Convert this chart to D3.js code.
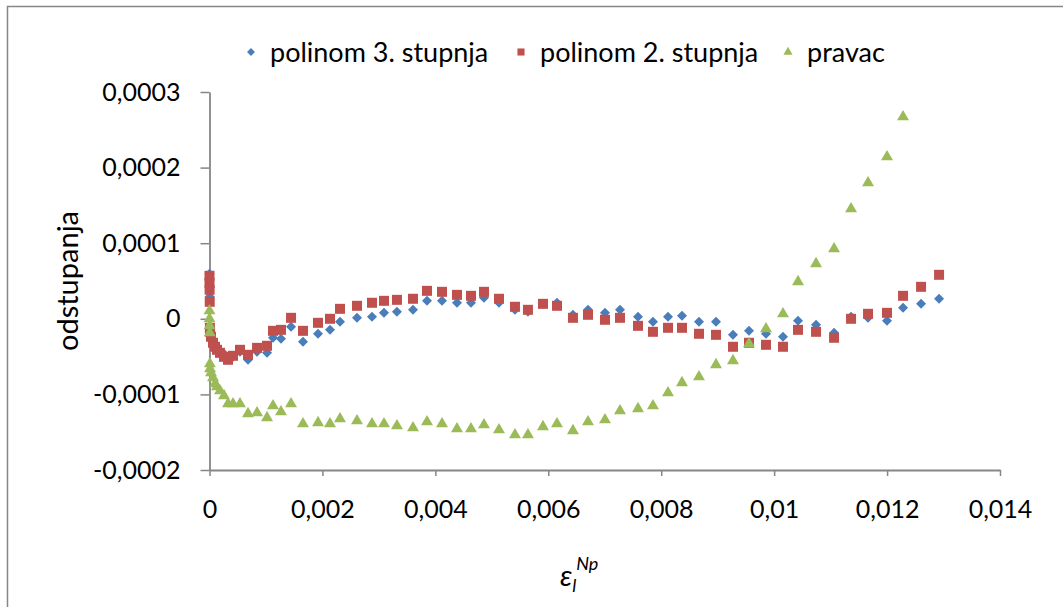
<!DOCTYPE html>
<html>
<head>
<meta charset="utf-8">
<script src="https://cdn.jsdelivr.net/npm/d3@7"></script>
<style>
  body { margin: 0; background: #fff; }
  text { font-family: Lato, "Open Sans", sans-serif; fill: #000; }
</style>
</head>
<body>
<svg id="chart" width="1063" height="607"></svg>
<script>
// plastic strain values (shared by all three fits)
var strain = [0, 0, 0.000002, 0.000004, 0.000007, 0.00001, 0.000027, 0.000062, 0.000097, 0.000133,
  0.000186, 0.000257, 0.000328, 0.000416, 0.00054, 0.000682, 0.000842, 0.001019, 0.001125, 0.001266,
  0.001444, 0.001656, 0.001922, 0.002134, 0.002311, 0.002612, 0.002878, 0.00309, 0.00332, 0.003604,
  0.003852, 0.004118, 0.004383, 0.004631, 0.004861, 0.005127, 0.00541, 0.00564, 0.005906, 0.006154,
  0.006437, 0.006703, 0.007004, 0.00727, 0.007589, 0.007854, 0.00812, 0.008368, 0.008669, 0.00897,
  0.009271, 0.009555, 0.009856, 0.010157, 0.010423, 0.010742, 0.011061, 0.011362, 0.011663, 0.011999,
  0.012283, 0.012602, 0.012921];

// odstupanja, polinom 3. stupnja
var poly3 = [59.5e-6, 52.9e-6, 41.0e-6, 29.1e-6, -10.6e-6, -15.9e-6, -22.5e-6, -30.4e-6, -35.7e-6, -41.0e-6,
  -43.7e-6, -46.3e-6, -51.6e-6, -50.3e-6, -43.7e-6, -54.2e-6, -43.7e-6, -45.0e-6, -25.1e-6, -26.5e-6,
  -10.6e-6, -30.4e-6, -19.8e-6, -14.6e-6, -4.0e-6, 1.3e-6, 2.6e-6, 7.9e-6, 9.3e-6, 11.9e-6,
  23.8e-6, 23.8e-6, 21.2e-6, 21.2e-6, 27.8e-6, 21.2e-6, 11.9e-6, 9.3e-6, 19.8e-6, 21.2e-6,
  5.3e-6, 11.9e-6, 7.9e-6, 11.9e-6, 2.6e-6, -4.0e-6, 2.6e-6, 4.0e-6, -4.0e-6, -4.0e-6,
  -21.2e-6, -15.9e-6, -19.8e-6, -23.8e-6, -2.6e-6, -7.9e-6, -18.5e-6, 2.6e-6, 1.3e-6, -2.6e-6,
  14.6e-6, 19.8e-6, 26.5e-6];

// odstupanja, polinom 2. stupnja
var poly2 = [56.9e-6, 47.6e-6, 38.4e-6, 22.5e-6, -11.9e-6, -17.2e-6, -23.8e-6, -31.7e-6, -37.0e-6, -41.0e-6,
  -45.0e-6, -50.3e-6, -54.2e-6, -48.9e-6, -41.0e-6, -47.6e-6, -38.4e-6, -35.7e-6, -15.9e-6, -14.6e-6,
  1.3e-6, -15.9e-6, -5.3e-6, 0, 13.2e-6, 17.2e-6, 21.2e-6, 23.8e-6, 25.1e-6, 26.5e-6,
  37.0e-6, 35.7e-6, 31.7e-6, 30.4e-6, 35.7e-6, 26.5e-6, 15.9e-6, 11.9e-6, 19.8e-6, 17.2e-6,
  1.3e-6, 5.3e-6, -1.3e-6, 1.3e-6, -9.3e-6, -17.2e-6, -11.9e-6, -11.9e-6, -19.8e-6, -21.2e-6,
  -37.0e-6, -31.7e-6, -34.4e-6, -37.0e-6, -14.6e-6, -17.2e-6, -25.1e-6, 0, 6.6e-6, 7.9e-6,
  30.4e-6, 42.3e-6, 58.2e-6];

// odstupanja, pravac (last two fall above the axis range, not shown)
var line1 = [11.9e-6, 1.3e-6, -7.9e-6, -17.2e-6, -58.2e-6, -64.8e-6, -70.1e-6, -76.7e-6, -84.7e-6, -88.6e-6,
  -93.9e-6, -100.5e-6, -111.1e-6, -111.1e-6, -111.1e-6, -124.3e-6, -123.0e-6, -129.6e-6, -113.8e-6, -121.7e-6,
  -111.1e-6, -137.6e-6, -136.2e-6, -137.6e-6, -131.0e-6, -133.6e-6, -137.6e-6, -137.6e-6, -140.2e-6, -142.9e-6,
  -134.9e-6, -137.6e-6, -144.2e-6, -144.2e-6, -138.9e-6, -145.5e-6, -152.1e-6, -152.1e-6, -141.5e-6, -137.6e-6,
  -146.8e-6, -134.9e-6, -132.3e-6, -120.4e-6, -117.7e-6, -113.8e-6, -96.6e-6, -83.3e-6, -75.4e-6, -59.5e-6,
  -54.2e-6, -31.7e-6, -11.9e-6, 7.9e-6, 50.3e-6, 74.1e-6, 93.9e-6, 146.8e-6, 181.2e-6, 215.6e-6,
  268.5e-6, null, null];

var xTicks = [0, 0.002, 0.004, 0.006, 0.008, 0.01, 0.012, 0.014];
var yTicks = [-0.0002, -0.0001, 0, 0.0001, 0.0002, 0.0003];
var seriesNames = ["polinom 3. stupnja", "polinom 2. stupnja", "pravac"];

var svg = d3.select("#chart");
var axisColor = "#868686";

// chart frame (only left and top edges show in the picture)
svg.append("rect")
  .attr("x", 7.5).attr("y", 6.5)
  .attr("width", 1100).attr("height", 700)
  .style("fill", "none")
  .style("stroke", axisColor)
  .style("stroke-width", 1.5);

var x = d3.scaleLinear().domain([0, 0.014]).range([209.5, 1000]);
var y = d3.scaleLinear().domain([-0.0002, 0.0003]).range([470, 92]);

var fmt = function(d) { return String(+d.toFixed(4)).replace(".", ","); };

var xAxis = svg.append("g")
  .attr("transform", "translate(0,470)")
  .call(d3.axisBottom(x).tickValues(xTicks).tickSize(6).tickSizeOuter(0).tickPadding(24).tickFormat(fmt));

var yAxis = svg.append("g")
  .attr("transform", "translate(209.5,0)")
  .call(d3.axisLeft(y).tickValues(yTicks).tickSize(9).tickSizeOuter(0).tickPadding(20).tickFormat(fmt));

[xAxis, yAxis].forEach(function(a) {
  a.select(".domain").style("stroke", axisColor).style("stroke-width", 1.8);
  a.selectAll(".tick line").style("stroke", axisColor).style("stroke-width", 1.5);
  a.selectAll(".tick text").style("font-family", "Lato").style("font-size", "25px").style("fill", "#000");
});

// markers
var diamond = d3.symbol().type(d3.symbolDiamond2).size(64);
var square = d3.symbol().type(d3.symbolSquare).size(100);
var triangle = d3.symbol().type(d3.symbolTriangle).size(62);

var series = [
  { values: poly3, color: "#4a7ebb", sym: diamond, dy: 0 },
  { values: poly2, color: "#c0504d", sym: square, dy: 0 },
  { values: line1, color: "#9bbb59", sym: triangle, dy: 1 }
];

series.forEach(function(s) {
  var pts = strain.map(function(v, i) { return [v, s.values[i]]; })
    .filter(function(p) { return p[1] !== null; });
  svg.append("g").selectAll("path")
    .data(pts)
    .enter().append("path")
      .attr("d", s.sym)
      .attr("transform", function(p) { return "translate(" + x(p[0]) + "," + (y(p[1]) + s.dy) + ")"; })
      .style("fill", s.color);
});

// legend
var legendX = [251, 521, 788];
var legendSyms = [
  d3.symbol().type(d3.symbolDiamond2).size(40),
  d3.symbol().type(d3.symbolSquare).size(50),
  d3.symbol().type(d3.symbolTriangle).size(36)
];
seriesNames.forEach(function(name, i) {
  var g = svg.append("g").attr("transform", "translate(" + legendX[i] + ",52)");
  g.append("path").attr("d", legendSyms[i]).style("fill", series[i].color);
  g.append("text")
    .attr("x", 19).attr("y", 10)
    .text(name)
    .style("font-size", "27px");
});

// axis titles
svg.append("text")
  .attr("transform", "translate(78,281) rotate(-90)")
  .attr("text-anchor", "middle")
  .text("odstupanja")
  .style("font-size", "29px");

var xt = svg.append("text")
  .attr("x", 560).attr("y", 586)
  .style("font-size", "29px")
  .style("font-style", "italic");
xt.append("tspan").text("ε");
xt.append("tspan").attr("dy", 6).style("font-size", "18px").text("l");
xt.append("tspan").attr("dy", -22).style("font-size", "18px").text("Np");
</script>
</body>
</html>
